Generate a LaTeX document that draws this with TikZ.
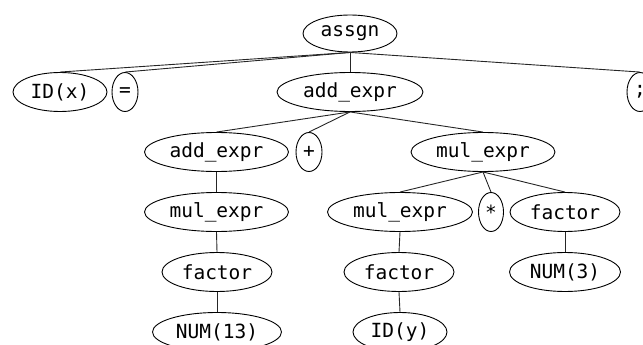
\documentclass[tikz,border=0pt]{standalone}
\usepackage{fontspec}
\setmonofont{DejaVu Sans Mono}
\usetikzlibrary{shapes.geometric}
\tikzset{
  tnode/.style={draw=black, line width=0.9pt, ellipse, inner sep=0pt,
    minimum height=39, font=\ttfamily\fontsize{19.5}{22}\selectfont},
  edge/.style={draw=black!85, line width=0.9pt}
}
\begin{document}
\begin{tikzpicture}[x=1pt,y=-1pt]
\useasboundingbox (0,0) rectangle (643,345);
\clip (0,0) rectangle (643,345);
\node[tnode, minimum width=94, minimum height=37] (assgn) at (350,33.5) {assgn};
\node[tnode, minimum width=94] (idx) at (60,92) {ID(x)};
\node[tnode, minimum width=26] (eq) at (125,92) {=};
\node[tnode, minimum width=146] (add1) at (350,92) {add\_expr};
\node[tnode, minimum width=26] (semi) at (640,92) {;};
\node[tnode, minimum width=144] (add2) at (216.5,152) {add\_expr};
\node[tnode, minimum width=26] (plus) at (309,152) {+};
\node[tnode, minimum width=144] (mul1) at (483,152) {mul\_expr};
\node[tnode, minimum width=144] (mul2) at (216.5,212) {mul\_expr};
\node[tnode, minimum width=145] (mul3) at (400,212) {mul\_expr};
\node[tnode, minimum width=25] (star) at (491,212) {*};
\node[tnode, minimum width=110] (fac1) at (565,212) {factor};
\node[tnode, minimum width=110] (fac2) at (217,272) {factor};
\node[tnode, minimum width=110] (fac3) at (399,272) {factor};
\node[tnode, minimum width=111] (num3) at (565,272) {NUM(3)};
\node[tnode, minimum width=129] (num13) at (217,332) {NUM(13)};
\node[tnode, minimum width=94] (idy) at (400,332) {ID(y)};
\draw[edge] (assgn.south) -- (idx.north);
\draw[edge] (assgn.south) -- (eq.north);
\draw[edge] (assgn.south) -- (add1.north);
\draw[edge] (assgn.south) -- (semi.north);
\draw[edge] (add1.south) -- (add2.north);
\draw[edge] (add1.south) -- (plus.north);
\draw[edge] (add1.south) -- (mul1.north);
\draw[edge] (add2.south) -- (mul2.north);
\draw[edge] (mul1.south) -- (mul3.north);
\draw[edge] (mul1.south) -- (star.north);
\draw[edge] (mul1.south) -- (fac1.north);
\draw[edge] (mul2.south) -- (fac2.north);
\draw[edge] (mul3.south) -- (fac3.north);
\draw[edge] (fac1.south) -- (num3.north);
\draw[edge] (fac2.south) -- (num13.north);
\draw[edge] (fac3.south) -- (idy.north);
\end{tikzpicture}
\end{document}
